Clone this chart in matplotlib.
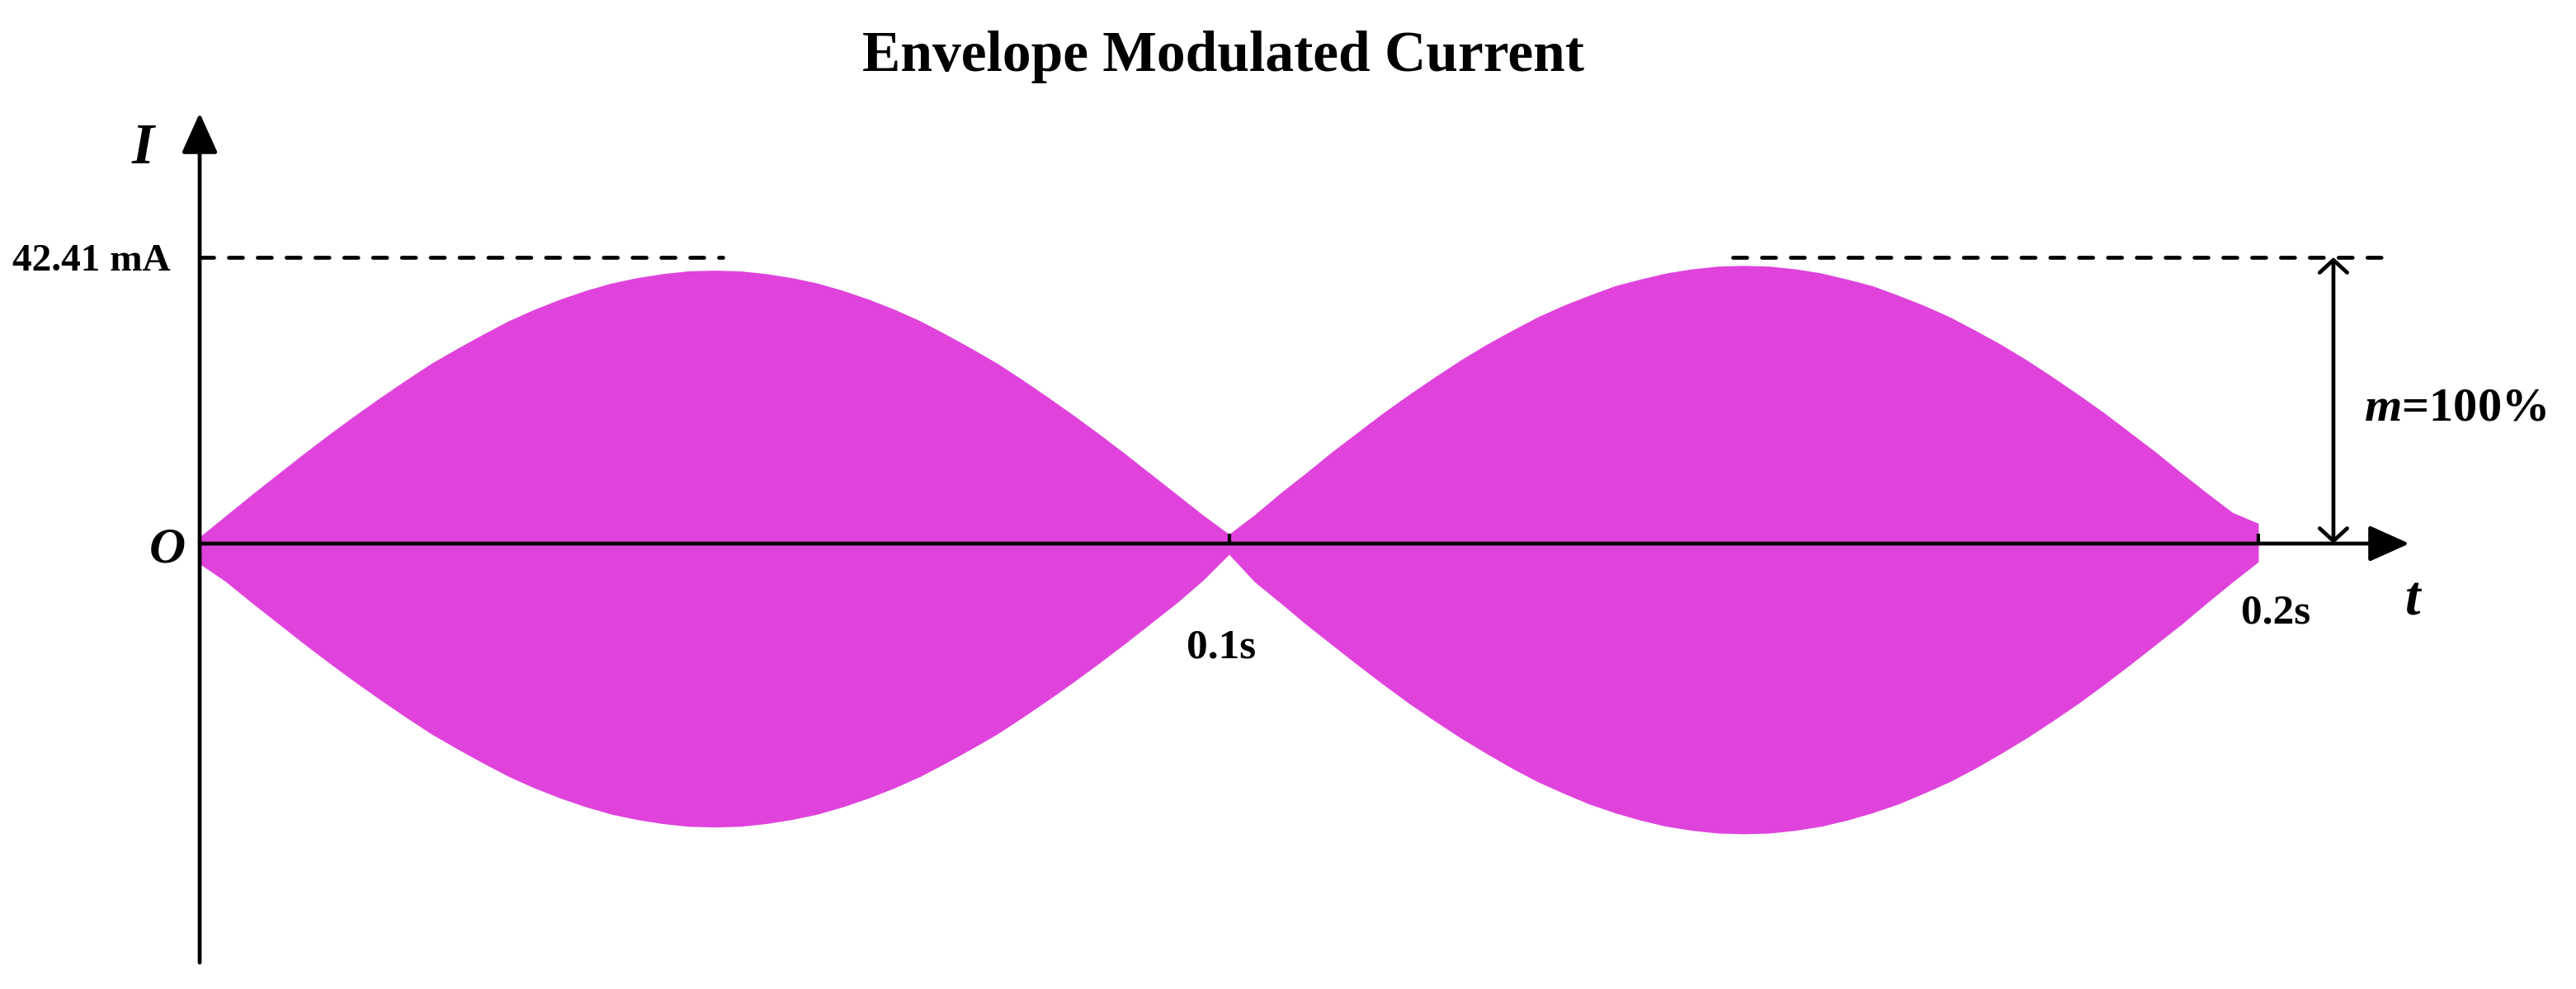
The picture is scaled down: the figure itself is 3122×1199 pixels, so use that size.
import matplotlib
matplotlib.use("Agg")
import matplotlib.pyplot as plt
import numpy as np

# ---------------- data ----------------
sample_step_s = 0.0025        # envelope read every 2.5 ms from 0 to 0.2 s
# positive envelope of the current (mA)
upper_mA = [1.0, 4.1, 7.2, 10.2, 13.2, 16.1, 18.9, 21.6, 24.2, 26.7,
            28.9, 31.0, 33.0, 34.7, 36.2, 37.5, 38.6, 39.4, 40.0, 40.4,
            40.5, 40.4, 40.0, 39.4, 38.6, 37.5, 36.2, 34.7, 33.0, 31.0,
            28.9, 26.7, 24.2, 21.6, 18.9, 16.1, 13.2, 10.2, 7.2, 4.2,
            1.4,
            4.3, 7.5, 10.5, 13.6, 16.5, 19.4, 22.1, 24.7, 27.2, 29.5,
            31.6, 33.6, 35.3, 36.8, 38.2, 39.2, 40.1, 40.7, 41.1, 41.2,
            41.1, 40.7, 40.1, 39.2, 38.2, 36.8, 35.3, 33.6, 31.6, 29.5,
            27.2, 24.7, 22.1, 19.4, 16.5, 13.6, 10.5, 7.5, 4.6, 3.0]
# negative envelope magnitude of the current (mA)
lower_mA = [3.0, 5.6, 8.7, 11.7, 14.7, 17.6, 20.4, 23.1, 25.7, 28.2,
            30.4, 32.5, 34.5, 36.2, 37.7, 39.0, 40.1, 40.9, 41.5, 41.9,
            42.0, 41.9, 41.5, 40.9, 40.1, 39.0, 37.7, 36.2, 34.5, 32.5,
            30.4, 28.2, 25.7, 23.1, 20.4, 17.6, 14.7, 11.7, 8.7, 5.4,
            1.6,
            5.7, 8.8, 12.0, 15.0, 18.0, 20.9, 23.7, 26.3, 28.8, 31.1,
            33.3, 35.3, 37.0, 38.6, 39.9, 41.0, 41.9, 42.5, 42.9, 43.0,
            42.9, 42.5, 41.9, 41.0, 39.9, 38.6, 37.0, 35.3, 33.3, 31.1,
            28.8, 26.3, 23.7, 20.9, 18.0, 15.0, 12.0, 8.8, 5.7, 2.7]
peak_current = 42.41           # mA
tick_times = [0.1, 0.2]
tick_labels = ["0.1s", "0.2s"]
peak_label = "42.41 mA"
mod_label = r"$m$=100%"
title = "Envelope Modulated Current"

# ---------------- styling ----------------
W, H = 3122, 1199
plt.rcParams["mathtext.fontset"] = "custom"
plt.rcParams["mathtext.it"] = "Liberation Serif:italic:bold"
plt.rcParams["mathtext.rm"] = "Liberation Serif:bold"
SERIF = ["Liberation Serif", "DejaVu Serif"]
MAGENTA = "#E043DC"
LW = 3.4

fig = plt.figure(figsize=(W / 100, H / 100), dpi=100)
ax = fig.add_axes([0, 0, 1, 1])

# pixel layout -> data limits
px_per_s = 12475.0
x_orig, y_orig = 242.0, 659.0
px_per_mA = 347.0 / peak_current
ax.set_xlim(-x_orig / px_per_s, (W - x_orig) / px_per_s)
ax.set_ylim(-(H - y_orig) / px_per_mA, y_orig / px_per_mA)
ax.axis("off")

def fx(px):
    return (px - x_orig) / px_per_s

def fy(py):
    return (y_orig - py) / px_per_mA

# ---------------- the modulated current ----------------
t = np.arange(len(upper_mA)) * sample_step_s
ax.fill_between(t, -np.array(lower_mA), np.array(upper_mA),
                color=MAGENTA, linewidth=0, zorder=1)

# ---------------- axes with arrows ----------------
ax.annotate("", xy=(0, fy(137)), xytext=(0, fy(1167)),
            arrowprops=dict(arrowstyle="-|>,head_length=1.0,head_width=0.45",
                            mutation_scale=30, lw=LW, color="black",
                            shrinkA=0, shrinkB=0), zorder=5)
ax.annotate("", xy=(fx(2920), 0), xytext=(0, 0),
            arrowprops=dict(arrowstyle="-|>,head_length=1.0,head_width=0.45",
                            mutation_scale=30, lw=LW, color="black",
                            shrinkA=0, shrinkB=0), zorder=5)

# tick marks
for tt in tick_times:
    ax.plot([tt, tt], [0, fy(647)], color="black", lw=3.0, solid_capstyle="butt", zorder=5)

# dashed peak lines
dash = dict(color="black", lw=LW, linestyle=(0, (3.6, 3.8)),
            dash_capstyle="round", zorder=4)
ax.plot([0, fx(876)], [peak_current, peak_current], **dash)
ax.plot([fx(2100), fx(2888)], [peak_current, peak_current], **dash)

# modulation depth double arrow
xm = fx(2828)
ax.annotate("", xy=(xm, peak_current), xytext=(xm, 0),
            arrowprops=dict(arrowstyle="<->,head_length=0.55,head_width=0.6",
                            mutation_scale=20, lw=LW, color="black",
                            shrinkA=0, shrinkB=0), zorder=5)

# ---------------- texts ----------------
def ftext(px, py, s, size, ha="center", style="normal"):
    fig.text(px / W, 1 - py / H, s, fontsize=size, ha=ha, va="baseline",
             family=SERIF, weight="bold", style=style)

ftext(1482, 86, title, 50)
ftext(173, 198, "I", 50, style="italic")
ftext(207, 328, peak_label, 34, ha="right")
ftext(203, 682, "O", 44, style="italic")
ftext(1480, 797, tick_labels[0], 37)
ftext(2758, 755, tick_labels[1], 37)
ftext(2924, 745, "t", 48, style="italic")
ftext(2865, 510, mod_label, 42, ha="left")

fig.savefig("out.png", dpi=100)
